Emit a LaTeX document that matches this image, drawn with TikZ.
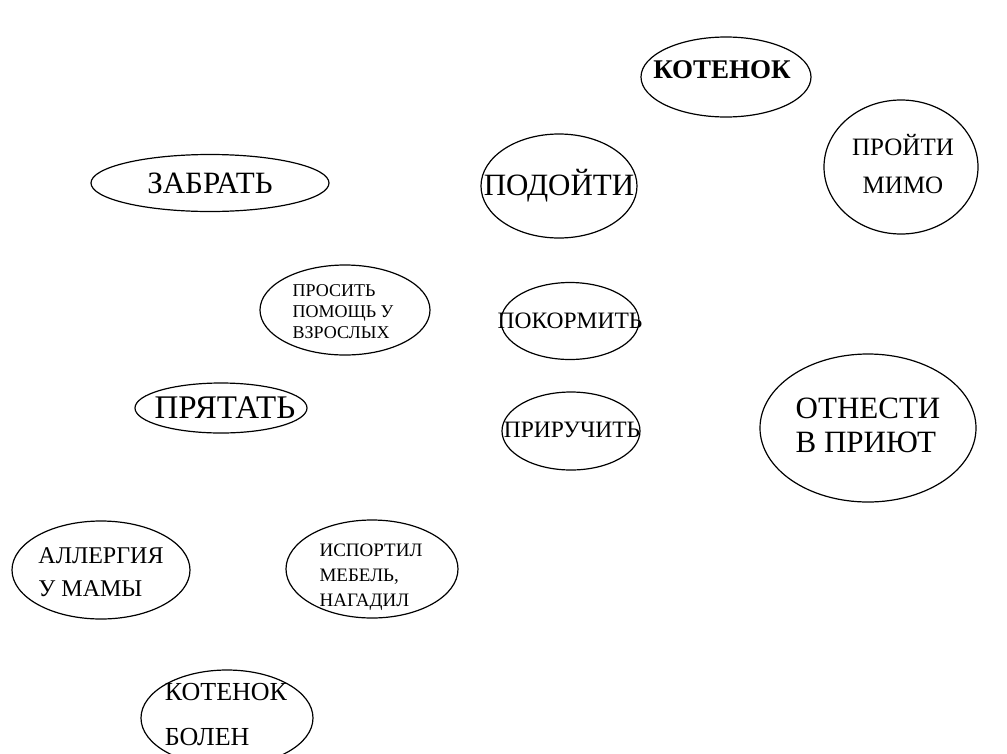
\documentclass[tikz,border=0pt]{standalone}
\usepackage{fontspec}
\setmainfont{Liberation Serif}
\usetikzlibrary{shapes.geometric}
\tikzset{
  bubble/.style={draw, ellipse, line width=1.2pt, inner sep=0pt},
  word/.style={inner sep=0pt, align=left},
}
\newcommand{\fsz}[2]{\fontsize{#1pt}{#2pt}\selectfont}
\begin{document}
\begin{tikzpicture}[x=1pt,y=1pt,yscale=-1]
\useasboundingbox (0,0) rectangle (1007,753);

% ellipses
\node [bubble, minimum width=170, minimum height=80] (koten) at (726,77) {};
\node [bubble, minimum width=154, minimum height=134] (mimo) at (901,167) {};
\node [bubble, minimum width=156, minimum height=104] (podoyti) at (559,186) {};
\node [bubble, minimum width=238, minimum height=57] (zabrat) at (210,183) {};
\node [bubble, minimum width=170, minimum height=90] (prosit) at (345,310) {};
\node [bubble, minimum width=138, minimum height=77] (pokormit) at (570,321) {};
\node [bubble, minimum width=138, minimum height=78] (priruchit) at (571,431) {};
\node [bubble, minimum width=216, minimum height=148] (priyut) at (868,428) {};
\node [bubble, minimum width=172, minimum height=50] (pryatat) at (221,408) {};
\node [bubble, minimum width=178, minimum height=98] (allergy) at (101,570) {};
\node [bubble, minimum width=172, minimum height=98] (mebel) at (372,569) {};
\node [bubble, minimum width=172, minimum height=96] (bolen) at (227,718) {};

% texts
\node [word, font=\fsz{27}{30}\bfseries] (koten-t) at (722,70) {КОТЕНОК};
\node [word, align=center, font=\fsz{25}{38}] (mimo-t) at (903,164) {ПРОЙТИ\\МИМО};
\node [word, font=\fsz{31}{34}] (podoyti-t) at (559,186) {ПОДОЙТИ};
\node [word, font=\fsz{31}{34}] (zabrat-t) at (210,183) {ЗАБРАТЬ};
\node [word, font=\fsz{18}{21}] (prosit-t) at (343,312) {ПРОСИТЬ\\ПОМОЩЬ У\\ВЗРОСЛЫХ};
\node [word, font=\fsz{23.5}{26}] (pokormit-t) at (570,321) {ПОКОРМИТЬ};
\node [word, font=\fsz{23.5}{26}] (priruchit-t) at (572,430) {ПРИРУЧИТЬ};
\node [word, font=\fsz{31}{34}] (priyut-t) at (868,425) {ОТНЕСТИ\\В ПРИЮТ};
\node [word, font=\fsz{33}{36}] (pryatat-t) at (225,408) {ПРЯТАТЬ};
\node [word, font=\fsz{24}{33}] (allergy-t) at (101,572) {АЛЛЕРГИЯ\\У МАМЫ};
\node [word, font=\fsz{19}{25}] (mebel-t) at (371,577) {ИСПОРТИЛ\\МЕБЕЛЬ,\\НАГАДИЛ};
\node [word, font=\fsz{26}{45}] (bolen-t) at (226,715) {КОТЕНОК\\БОЛЕН};
\end{tikzpicture}
\end{document}
